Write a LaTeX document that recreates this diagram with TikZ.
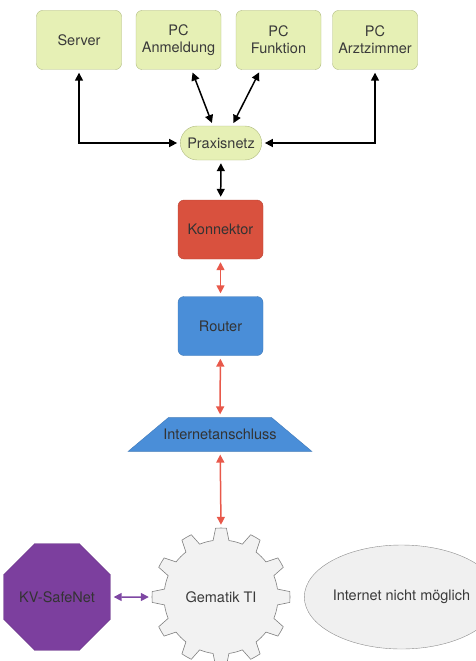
\documentclass[tikz,border=0pt]{standalone}
\usepackage{fontspec}
\setmainfont{TeX Gyre Heros}
\usepackage{tikz}
\usetikzlibrary{arrows,arrows.meta,shapes,positioning,calc}
\usepackage{xcolor}

\definecolor{pcgreen}{HTML}{E6F0B5}
\definecolor{pcline}{HTML}{AEB97E}
\definecolor{konred}{HTML}{D9513E}
\definecolor{routerblue}{HTML}{4A8ED8}
\definecolor{kvpurple}{HTML}{7C3F9E}
\definecolor{arrowred}{HTML}{E8584A}
\definecolor{arrowpurple}{HTML}{7E47A3}
\definecolor{textgray}{HTML}{3A3A3A}

\begin{document}
\begin{tikzpicture}[
    x=1pt, y=-1pt,
    every node/.style={font=\fontsize{14.5}{17}\selectfont, text=textgray, align=center},
    pcbox/.style={rectangle, rounded corners=6pt, draw=pcline, fill=pcgreen, minimum width=85pt, minimum height=59pt},
    netz/.style={rounded rectangle, draw=pcline, fill=pcgreen, minimum width=88pt, minimum height=34pt},
    konbox/.style={rectangle, rounded corners=6pt, draw=konred!85!black, fill=konred, minimum width=85pt, minimum height=59pt, text=black!80},
    routerbox/.style={rectangle, rounded corners=6pt, draw=routerblue!85!black, fill=routerblue, minimum width=85pt, minimum height=59pt, text=black!80},
    anschluss/.style={trapezium, trapezium angle=40, draw=routerblue!85!black, fill=routerblue, inner xsep=-5pt, inner ysep=11.5pt, text=black!80},
    safenet/.style={regular polygon, regular polygon sides=8, draw=kvpurple!85!black, fill=kvpurple, minimum size=108pt, inner sep=0pt, text=black!80},
    greyoval/.style={ellipse, draw=black!45, fill=black!6, minimum width=146pt, minimum height=104pt, inner sep=0pt},
    gearlabel/.style={circle, minimum size=138pt, inner sep=0pt},
    biarrow/.style={{Triangle[length=8pt,width=8pt]}-{Triangle[length=8pt,width=8pt]}, line width=1.5pt, shorten >=3pt, shorten <=3pt},
    blackarrow/.style={biarrow, draw=black},
    redarrow/.style={biarrow, draw=arrowred},
    purplearrow/.style={biarrow, draw=arrowpurple}
]
\useasboundingbox (0,0) rectangle (475,661);

\node[pcbox] (server) at (79,40) {Server};
\node[pcbox] (anmeldung) at (178.5,40) {PC\\Anmeldung};
\node[pcbox] (funktion) at (278.5,40) {PC\\Funktion};
\node[pcbox] (arztzimmer) at (375,40) {PC\\Arztzimmer};

\node[netz] (praxisnetz) at (221,143) {Praxisnetz};
\node[konbox] (konnektor) at (220.5,229.5) {Konnektor};
\node[routerbox] (router) at (220.5,326) {Router};
\node[anschluss] (anschluss) at (220,434.5) {Internetanschluss};

\draw[draw=black!50, fill=black!5, line width=0.6pt, shift={(221,597)}]
    (-15:57) \foreach \a in {0,30,...,330} {
        arc[start angle=\a-15, end angle=\a-8, radius=57]
        -- ({\a-4.5}:69) arc[start angle=\a-4.5, end angle=\a+4.5, radius=69]
        -- ({\a+8}:57) arc[start angle=\a+8, end angle=\a+15, radius=57]
    } -- cycle;
\node[gearlabel] (gear) at (221,597) {Gematik TI};

\node[safenet] (kv) at (57,597) {KV-SafeNet};
\node[greyoval] (nointernet) at (401.5,597) {Internet nicht möglich};

\draw[blackarrow] (server.south) |- (praxisnetz.west);
\draw[blackarrow] (arztzimmer.south) |- (praxisnetz.east);
\draw[blackarrow] ([xshift=13pt]anmeldung.south) -- ([xshift=-8pt]praxisnetz.north);
\draw[blackarrow] ([xshift=-18pt]funktion.south) -- ([xshift=11pt]praxisnetz.north);
\draw[blackarrow] (praxisnetz) -- (konnektor);
\draw[redarrow] (konnektor) -- (router);
\draw[redarrow] (router) -- (anschluss);
\draw[redarrow] (anschluss) -- (gear.north);
\draw[purplearrow] (kv.east) -- (gear.west);

\end{tikzpicture}
\end{document}
